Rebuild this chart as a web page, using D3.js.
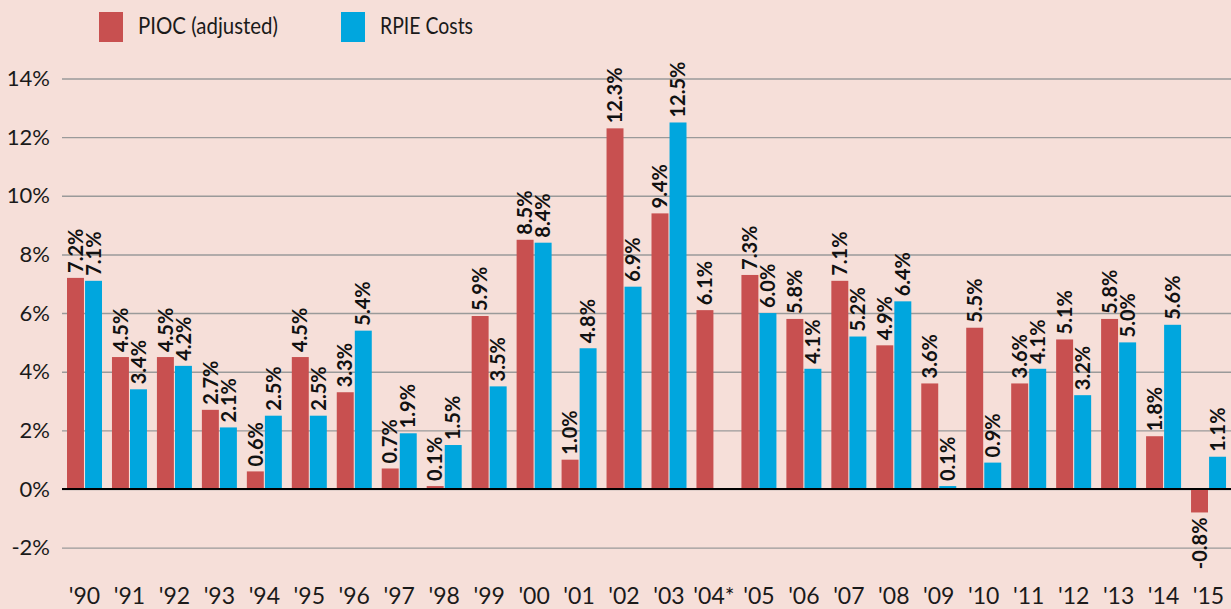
<!DOCTYPE html>
<html>
<head>
<meta charset="utf-8">
<script src="https://cdn.jsdelivr.net/npm/d3@7"></script>
<style>
  html, body { margin: 0; padding: 0; background: #f6dfd9; }
  svg { display: block; font-family: Lato, "Noto Sans", sans-serif; }
</style>
</head>
<body>
<div id="chart"></div>
<script>
// data
var years = ["'90", "'91", "'92", "'93", "'94", "'95", "'96", "'97", "'98", "'99",
             "'00", "'01", "'02", "'03", "'04*", "'05", "'06", "'07", "'08", "'09",
             "'10", "'11", "'12", "'13", "'14", "'15"];
var pioc = [7.2, 4.5, 4.5, 2.7, 0.6, 4.5, 3.3, 0.7, 0.1, 5.9,
            8.5, 1.0, 12.3, 9.4, 6.1, 7.3, 5.8, 7.1, 4.9, 3.6,
            5.5, 3.6, 5.1, 5.8, 1.8, -0.8];
var rpie = [7.1, 3.4, 4.2, 2.1, 2.5, 2.5, 5.4, 1.9, 1.5, 3.5,
            8.4, 4.8, 6.9, 12.5, null, 6.0, 4.1, 5.2, 6.4, 0.1,
            0.9, 4.1, 3.2, 5.0, 5.6, 1.1];
var seriesNames = ["PIOC (adjusted)", "RPIE Costs"];
var seriesColors = ["#c85050", "#00a6de"];
var yTicks = [-2, 0, 2, 4, 6, 8, 10, 12, 14];

var width = 1231;
var height = 609;
var plot = { left: 62, right: 1231, zero: 489 };

var svg = d3.select('#chart')
   .append("svg")
   .attr("width", width)
   .attr("height", height);

svg.append("rect")
   .attr("width", width)
   .attr("height", height)
   .attr("fill", "#f6dfd9");

var yScale = d3.scaleLinear()
   .domain([0, 14])
   .range([plot.zero, 78.5]);

var xScale = d3.scaleBand()
   .domain(years)
   .range([plot.left, plot.right])
   .padding(0);

var xInner = d3.scaleBand()
   .domain([0, 1])
   .range([5, 40])
   .paddingInner(0.06);

// gridlines + y labels
var yAxis = d3.axisLeft(yScale)
   .tickValues(yTicks)
   .tickSize(plot.right - plot.left)
   .tickPadding(12)
   .tickFormat(function (d) { return d + "%"; });

var gY = svg.append("g")
   .attr("transform", "translate(" + plot.right + ",0)")
   .call(yAxis);
gY.select(".domain").remove();
gY.selectAll(".tick line")
   .attr("stroke", "#9a9a9a")
   .attr("stroke-width", 1.4);
gY.selectAll(".tick text")
   .attr("fill", "#1a1a1a")
   .style("font-size", "22px")
   .style("font-family", "Lato, sans-serif");

// bars
var series = [pioc, rpie];
series.forEach(function (vals, si) {
   var g = svg.append("g");
   var rows = years.map(function (y, i) { return { year: y, v: vals[i] }; })
      .filter(function (d) { return d.v !== null; });

   g.selectAll("rect")
      .data(rows)
      .enter().append("rect")
      .attr("x", function (d) { return xScale(d.year) + xInner(si); })
      .attr("width", xInner.bandwidth())
      .attr("y", function (d) { return yScale(Math.max(0, d.v)); })
      .attr("height", function (d) { return Math.abs(yScale(d.v) - yScale(0)); })
      .attr("fill", seriesColors[si]);

   g.selectAll("text")
      .data(rows)
      .enter().append("text")
      .attr("transform", function (d) {
         var cx = xScale(d.year) + xInner(si) + xInner.bandwidth() / 2;
         var y = d.v >= 0 ? yScale(d.v) - 5 : yScale(d.v) + 5;
         return "translate(" + cx + "," + y + ") rotate(-90)";
      })
      .attr("dy", "0.36em")
      .attr("text-anchor", function (d) { return d.v >= 0 ? "start" : "end"; })
      .attr("fill", "#111")
      .style("font-size", "20px")
      .style("font-weight", "bold")
      .text(function (d) { return d.v.toFixed(1) + "%"; });
});

// zero line
svg.append("line")
   .attr("x1", plot.left)
   .attr("x2", plot.right)
   .attr("y1", yScale(0))
   .attr("y2", yScale(0))
   .attr("stroke", "#000")
   .attr("stroke-width", 2.2);

// x labels
var xAxis = d3.axisBottom(xScale).tickSize(0).tickPadding(0);
var gX = svg.append("g")
   .attr("transform", "translate(0,588)")
   .call(xAxis);
gX.select(".domain").remove();
gX.selectAll(".tick text")
   .attr("fill", "#1a1a1a")
   .attr("dy", "0.71em")
   .style("font-size", "23px")
   .style("font-family", "Lato, sans-serif");

// legend
var legend = svg.append("g");
var legendX = [99, 341];
var legendW = [140, 93];
seriesNames.forEach(function (name, i) {
   legend.append("rect")
      .attr("x", legendX[i])
      .attr("y", 12)
      .attr("width", 24)
      .attr("height", 30)
      .attr("fill", seriesColors[i]);
   legend.append("text")
      .attr("x", legendX[i] + 39)
      .attr("y", 34)
      .attr("fill", "#1a1a1a")
      .attr("textLength", legendW[i])
      .attr("lengthAdjust", "spacingAndGlyphs")
      .style("font-size", "24px")
      .text(name);
});
</script>
</body>
</html>
